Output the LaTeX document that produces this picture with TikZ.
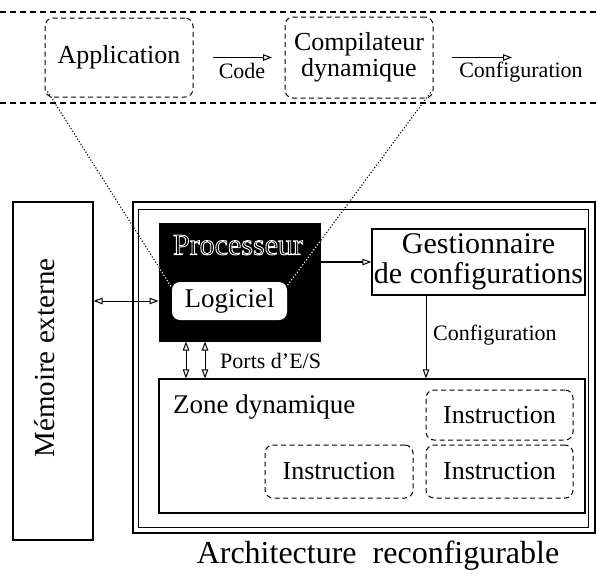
\documentclass[tikz,border=0pt]{standalone}
\usepackage{fontspec}
\setmainfont{Liberation Serif}
\usetikzlibrary{arrows.meta}

\newcommand{\fsz}[1]{\fontsize{#1}{#1}\selectfont}
% hollow (stroked only) lettering
\newcommand{\hollowtext}[1]{\special{pdf:code 1 Tr 0.9 w}#1\special{pdf:code 0 Tr}}

\begin{document}
\begin{tikzpicture}[x=1pt,y=-1pt,
  tri/.style={line width=1pt,-{Triangle[open,length=9pt,width=6.5pt,line width=1pt]}},
  dtri/.style={line width=1pt,{Triangle[open,length=9pt,width=6.5pt,line width=1pt]}-{Triangle[open,length=9pt,width=6.5pt,line width=1pt]}},
  dashbox/.style={draw,line width=1pt,dash pattern=on 5pt off 3.5pt,rounded corners=8pt,inner sep=0pt},
  plainbox/.style={draw,line width=1.2pt,inner sep=0pt},
  sepline/.style={line width=1.2pt,dash pattern=on 6pt off 4pt},
  link/.style={line width=1.1pt,dotted},
  lbl/.style={inner sep=0pt,font=\fsz{22}}]
\useasboundingbox (0,0) rectangle (597,573);

% --- software layer (top band) ---
\coordinate (sepTL) at (0,12);
\coordinate (sepTR) at (597,12);
\coordinate (sepBL) at (0,103);
\coordinate (sepBR) at (597,103);
\draw[sepline] (sepTL) -- (sepTR);
\draw[sepline] (sepBL) -- (sepBR);

\node[dashbox,minimum width=148pt,minimum height=79pt,font=\fsz{26}] (app) at (119,57.5) {Application};
\node[dashbox,minimum width=148pt,minimum height=81pt,font=\fsz{26},align=center] (comp) at (359,57.5)
  {\fontsize{26}{29}\selectfont Compilateur\\dynamique};

\coordinate (codeEnd) at (272,57.5);
\draw[tri] ([shift={(19,0)}]app.east) -- (codeEnd);
\node[lbl] (codelbl) at (242,71) {Code};

\coordinate (cfgStart) at (452,57.5);
\coordinate (cfgEnd) at (512,57.5);
\draw[tri] (cfgStart) -- (cfgEnd);
\node[lbl] (cfglbl) at (521,72) {Configuration};

% --- external memory ---
\node[plainbox,minimum width=80pt,minimum height=338pt] (mem) at (53,371) {};
\node[rotate=90,font=\fsz{29},inner sep=0pt] (memlbl) at (45,358) {Mémoire externe};

% --- reconfigurable architecture (double frame) ---
\node[draw,line width=1.6pt,minimum width=462pt,minimum height=331pt,inner sep=0pt] (archout) at (364,367.5) {};
\node[draw,line width=1pt,minimum width=450pt,minimum height=318pt,inner sep=0pt] (archin) at (363,368) {};
\node[font=\fsz{32},inner sep=0pt] (archlbl) at (378,556) {Architecture\ \ reconfigurable};

% --- processor ---
\node[draw,fill=black,line width=1pt,minimum width=161pt,minimum height=118pt,inner sep=0pt] (proc) at (239.5,282) {};

% dotted links from the software layer
\coordinate (appfoot) at ([shift={(3,-6)}]app.south west);
\coordinate (compfoot) at ([shift={(-3,-6)}]comp.south east);
\draw[link] (appfoot) -- ([shift={(0,6)}]172,282);
\draw[link] (compfoot) -- ([shift={(0,4)}]287,282);
\begin{scope}
  \clip (proc.north west) rectangle (proc.south east);
  \draw[link,white] (appfoot) -- ([shift={(0,6)}]172,282);
  \draw[link,white] (compfoot) -- ([shift={(0,4)}]287,282);
\end{scope}

% hollow processor title
\node[text=white,font=\fsz{30},inner sep=0pt] (proclbl) at (238,245) {\hollowtext{Processeur}};

\node[fill=white,rounded corners=8pt,minimum width=115pt,minimum height=38pt,inner sep=0pt,font=\fsz{27}] (logi) at (229.5,301) {Logiciel};

% --- configuration manager ---
\node[plainbox,minimum width=213pt,minimum height=66pt,align=center,font=\fsz{30}] (gest) at (478.5,262)
  {\fontsize{30}{30}\selectfont Gestionnaire\\de configurations};

% --- dynamic zone ---
\node[plainbox,minimum width=426pt,minimum height=134pt] (zone) at (372,446) {};
\node[font=\fsz{27},inner sep=0pt,anchor=west] (zonelbl) at (173,407) {Zone dynamique};
\node[dashbox,minimum width=147pt,minimum height=50pt,font=\fsz{26}] (inst1) at (499.5,415) {Instruction};
\node[dashbox,minimum width=148pt,minimum height=53pt,font=\fsz{26}] (inst2) at (339,471.5) {Instruction};
\node[dashbox,minimum width=147pt,minimum height=53pt,font=\fsz{26}] (inst3) at (499.5,471.5) {Instruction};

% --- connections ---
\draw[dtri] (mem.east |- logi.west) -- (proc.west |- logi.west);
\draw[tri,line width=1.4pt] (proc.east |- gest.west) -- (gest.west);
\draw[tri] ([shift={(-52.5,0)}]gest.south) -- ([shift={(-52.5,0)}]gest.south |- zone.north);
\node[lbl,anchor=west] (cfg2lbl) at (433,335) {Configuration};
\draw[dtri] ([shift={(-53.5,0)}]proc.south) -- ([shift={(-53.5,0)}]proc.south |- zone.north);
\draw[dtri] ([shift={(-34.5,0)}]proc.south) -- ([shift={(-34.5,0)}]proc.south |- zone.north);
\node[lbl,anchor=west] (portlbl) at (220,361) {Ports d'E/S};
\end{tikzpicture}
\end{document}
